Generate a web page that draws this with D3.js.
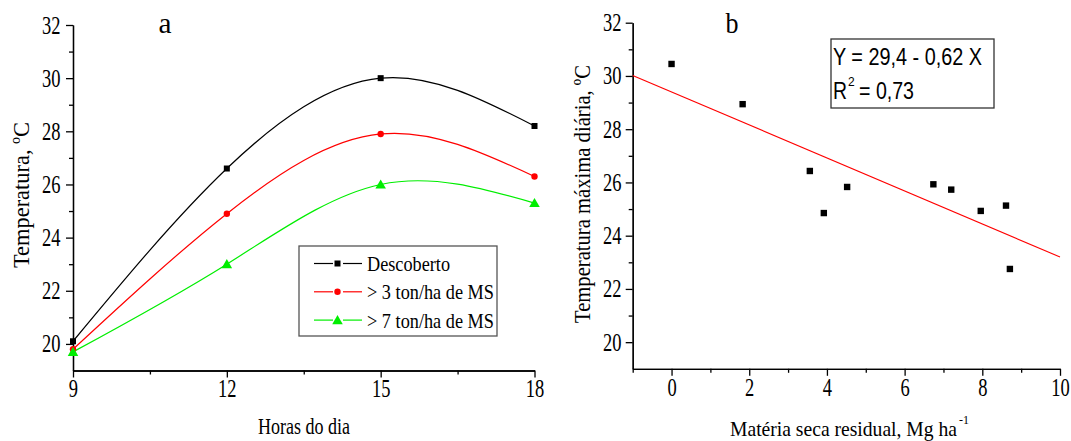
<!DOCTYPE html>
<html>
<head>
<meta charset="utf-8">
<script src="https://cdn.jsdelivr.net/npm/d3@7"></script>
<style>
body { margin: 0; background: #fff; }
svg { display: block; }
.axis path, .axis line { stroke: #000; stroke-width: 1.3; }
.lbl { font-family: "Liberation Serif", "Times New Roman", serif; font-size: 22px; fill: #000; }
</style>
</head>
<body>
<svg id="chart" width="1071" height="441"></svg>
<script>
// panel a
const hours = [9, 12, 15, 18]
const descoberto = [20.1, 26.6, 30.0, 28.2]
const ms3 = [19.8, 24.9, 27.9, 26.3]
const ms7 = [19.7, 23.0, 26.0, 25.3]
const seriesNames = ["Descoberto", "> 3 ton/ha de MS", "> 7 ton/ha de MS"]
const seriesColors = ["#000000", "#ff0000", "#00ee00"]

// panel b
const materiaSeca = [0, 1.83, 3.56, 3.92, 4.52, 6.74, 7.20, 7.96, 8.61, 8.71]
const tempMax = [30.45, 28.94, 26.43, 24.85, 25.83, 25.93, 25.73, 24.93, 25.13, 22.75]
const fitA = 29.4, fitB = -0.62

const yTicks = [20, 22, 24, 26, 28, 30, 32]
const yMinor = [21, 23, 25, 27, 29, 31]

const serif = '"Liberation Serif", "Times New Roman", serif'
const sans = '"Liberation Sans", Arial, sans-serif'
const svg = d3.select("#chart")

// the original figure is squeezed sideways, so tick text is condensed
function styleAxis(g) {
  g.attr("font-family", null).attr("font-size", null)
  g.selectAll("text").attr("transform", "scale(0.74,1)").attr("fill", "#000")
    .style("font-family", serif).style("font-size", "25px")
}

// text squeezed to a fixed length
function label(g, txt, tr, len, size) {
  return g.append("text").attr("class", "lbl").attr("transform", tr)
    .attr("text-anchor", "middle").style("font-size", size + "px")
    .attr("textLength", len).attr("lengthAdjust", "spacingAndGlyphs").text(txt)
}

// ---------- a ----------
var xa = d3.scaleLinear().domain([9, 18]).range([73, 534.5])
var ya = d3.scaleLinear().domain([19, 32]).range([370.5, 25])

var ga = svg.append("g")
ga.append("g").attr("class", "axis").attr("transform", "translate(0,370.5)")
  .call(d3.axisBottom(xa).tickValues([10.5, 13.5, 16.5]).tickSize(4).tickSizeOuter(0).tickFormat(""))
ga.append("g").attr("class", "axis").attr("transform", "translate(0,370.5)")
  .call(d3.axisBottom(xa).tickValues(hours).tickSize(7).tickSizeOuter(0).tickPadding(2)).call(styleAxis)
ga.append("g").attr("class", "axis").attr("transform", "translate(73,0)")
  .call(d3.axisLeft(ya).tickValues(yMinor).tickSize(4).tickSizeOuter(0).tickFormat(""))
ga.append("g").attr("class", "axis").attr("transform", "translate(73,0)")
  .call(d3.axisLeft(ya).tickValues(yTicks).tickSize(7).tickSizeOuter(0).tickPadding(10)).call(styleAxis)

var allSeries = [descoberto, ms3, ms7]
var line = d3.line().x(function(d, i) { return xa(hours[i]) }).y(function(d) { return ya(d) }).curve(d3.curveNatural)

allSeries.forEach(function(s, k) {
  ga.append("path").datum(s).attr("d", line)
    .attr("fill", "none").attr("stroke", seriesColors[k]).attr("stroke-width", 1.2)
})

function marker(g, k, x, y) {
  if (k == 0) {
    g.append("rect").attr("x", x - 3).attr("y", y - 3).attr("width", 6).attr("height", 6).attr("fill", seriesColors[k])
  } else if (k == 1) {
    g.append("circle").attr("cx", x).attr("cy", y).attr("r", 3.2).attr("fill", seriesColors[k])
  } else {
    g.append("path").attr("d", d3.symbol(d3.symbolTriangle, 48)()).attr("transform", "translate(" + x + "," + (y + 1) + ")").attr("fill", seriesColors[k])
  }
}

allSeries.forEach(function(s, k) {
  s.forEach(function(v, i) { marker(ga, k, xa(hours[i]), ya(v)) })
})

// legend
var lg = ga.append("g").attr("transform", "translate(299,246)")
lg.append("rect").attr("width", 198).attr("height", 90).attr("fill", "#fff").attr("stroke", "#555").attr("stroke-width", 1.3)
var legLen = [83, 127, 127]
seriesNames.forEach(function(n, k) {
  var yy = 17.5 + k * 28.3
  lg.append("line").attr("x1", 15).attr("x2", 34).attr("y1", yy).attr("y2", yy).attr("stroke", seriesColors[k]).attr("stroke-width", 1.2)
  lg.append("line").attr("x1", 44).attr("x2", 63).attr("y1", yy).attr("y2", yy).attr("stroke", seriesColors[k]).attr("stroke-width", 1.2)
  marker(lg, k, 38.5, yy)
  lg.append("text").attr("class", "lbl").attr("x", 68).attr("y", yy + 7.5).style("font-size", "22px")
    .attr("textLength", legLen[k]).attr("lengthAdjust", "spacingAndGlyphs").text(n)
})

label(ga, "a", "translate(165,33)", 13, 30)
label(ga, "Horas do dia", "translate(304,434)", 92, 23)
label(ga, "Temperatura, ºC", "translate(28.5,195) rotate(-90)", 146, 22.5)

// ---------- b ----------
var xb = d3.scaleLinear().domain([-1, 10]).range([632.7, 1060])
var yb = d3.scaleLinear().domain([19, 32]).range([368.8, 22.7])

var gb = svg.append("g")
gb.append("g").attr("class", "axis").attr("transform", "translate(0,368.8)")
  .call(d3.axisBottom(xb).tickValues([-1, 1, 3, 5, 7, 9]).tickSize(4).tickSizeOuter(0).tickFormat(""))
gb.append("g").attr("class", "axis").attr("transform", "translate(0,368.8)")
  .call(d3.axisBottom(xb).tickValues([0, 2, 4, 6, 8, 10]).tickSize(7).tickSizeOuter(0).tickPadding(2)).call(styleAxis)
gb.append("g").attr("class", "axis").attr("transform", "translate(632.7,0)")
  .call(d3.axisLeft(yb).tickValues(yMinor).tickSize(4).tickSizeOuter(0).tickFormat(""))
gb.append("g").attr("class", "axis").attr("transform", "translate(632.7,0)")
  .call(d3.axisLeft(yb).tickValues(yTicks).tickSize(7).tickSizeOuter(0).tickPadding(8)).call(styleAxis)

gb.append("line")
  .attr("x1", xb(-1)).attr("y1", yb(fitA + fitB * -1))
  .attr("x2", xb(10)).attr("y2", yb(fitA + fitB * 10))
  .attr("stroke", "#ff0000").attr("stroke-width", 1.1)

gb.selectAll("rect.pt").data(materiaSeca).enter().append("rect")
  .attr("class", "pt")
  .attr("x", function(d) { return xb(d) - 3.2 })
  .attr("y", function(d, i) { return yb(tempMax[i]) - 3.2 })
  .attr("width", 6.4).attr("height", 6.4).attr("fill", "#000")

var eq = gb.append("g").attr("transform", "translate(831,39)")
eq.append("rect").attr("width", 163).attr("height", 69).attr("fill", "#fff").attr("stroke", "#333").attr("stroke-width", 1.3)
eq.append("text").attr("x", 2).attr("y", 26).style("font-family", sans).style("font-size", "24px")
  .attr("textLength", 149).attr("lengthAdjust", "spacingAndGlyphs").text("Y = 29,4 - 0,62 X")
eq.append("text").attr("x", 2).attr("y", 60).style("font-family", sans).style("font-size", "24px")
  .attr("textLength", 14).attr("lengthAdjust", "spacingAndGlyphs").text("R")
eq.append("text").attr("x", 17).attr("y", 47).style("font-family", sans).style("font-size", "12px").text("2")
eq.append("text").attr("x", 28).attr("y", 60).style("font-family", sans).style("font-size", "24px")
  .attr("textLength", 55).attr("lengthAdjust", "spacingAndGlyphs").text("= 0,73")

label(gb, "b", "translate(732,33)", 13, 30)
gb.append("text").attr("class", "lbl").attr("x", 730).attr("y", 436).style("font-size", "22px")
  .attr("textLength", 227).attr("lengthAdjust", "spacingAndGlyphs").text("Matéria seca residual, Mg ha")
gb.append("text").attr("class", "lbl").attr("x", 959).attr("y", 424).style("font-size", "12px").text("-1")
label(gb, "Temperatura máxima diária, ºC", "translate(590,194) rotate(-90)", 258, 22.5)
</script>
</body>
</html>
